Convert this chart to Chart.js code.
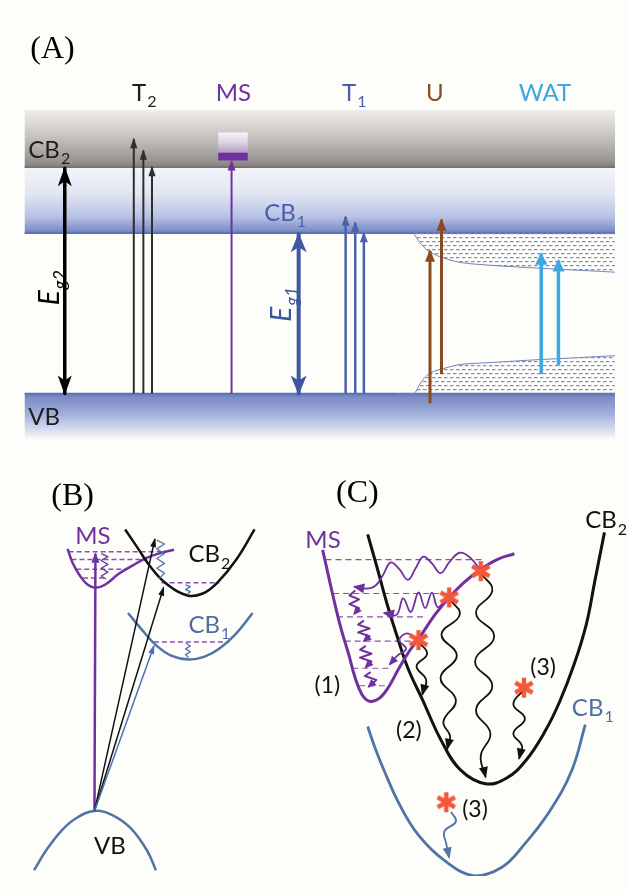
<!DOCTYPE html>
<html>
<head>
<meta charset="utf-8">
<script src="https://cdn.jsdelivr.net/npm/chart.js@4.4.0/dist/chart.umd.min.js"></script>
<style>
  html, body { margin: 0; padding: 0; background: #fdfdf9; overflow: hidden; }
  canvas { display: block; }
</style>
</head>
<body>
<canvas id="c" width="628" height="889"></canvas>
<script>
// ===== Panel A: band diagram (energies in canvas units, y grows downward) =====
const levelCB2 = [100, 159];      // top, bottom of CB2 band
const levelCB1 = [159, 227];      // shaded strip just below CB2 down to CB1 edge
const levelVB  = [392, 440];      // VB band
const bandSpan = [12, 628];       // left / right edge of the bands

const eg2Arrow = [54, 160, 392];  // x, top, bottom
const eg1Arrow = [298, 228, 392];
const t2Arrows = [[126, 130], [136, 142], [145, 159]];   // x, top (all start at VB)
const msArrowA = [228, 153];
const msBox    = [214, 245, 123, 144, 152];              // x0, x1, top, strip top, bottom
const t1Arrows = [[347, 210], [357, 216], [366, 227]];
const uArrows  = [[435, 402, 245], [447, 372, 213]];     // x, bottom, top
const watArrows = [[551, 372, 248], [569, 363, 255]];

// tail states of the disordered region (upper and lower edge)
const tailUpper = [[418,227],[424,236],[433,245],[445,251],[467,257],[500,260],[533,262],[570,264],[610,266],[628,267]];
const tailLower = [[400,392],[418,392],[424,383],[430,375],[437,370],[450,366],[467,362],[500,360],[550,357],[590,355],[628,353]];

// ===== Panel B: configuration-coordinate sketch =====
const bMS  = [[57,552],[62,566],[70,580],[78,589],[86,592],[96,589],[110,578],[125,569],[140,561],[155,556],[168,553]];
const bCB2 = [[117,532],[130,551],[143,570],[160,588],[182,600],[198,598],[213,587],[233,563],[252,532]];
const bCB1 = [[120,618],[135,636],[150,652],[165,662],[183,666],[200,663],[215,655],[232,640],[250,618]];
const bVB  = [[22,883],[35,862],[50,843],[65,830],[85,822],[105,827],[123,840],[140,863],[149,883]];
const bMSLevels = [[555,58,157],[563,61,140],[573,66,117],[582,73,98]];   // y, x0, x1
const bCBLevels = [[587,155,215],[648,147,224]];
const bApex = [85, 822];
const bUpMS = [86, 557];
const bToCB2 = [[148,542],[157,592]];
const bToCB1 = [147, 652];
const bZigMS  = [[92,557],[99,560],[92,564],[99,568],[92,572],[99,576],[92,580],[97,583]];
const bZigCB2 = [[150,543],[158,547],[150,552],[158,557],[150,562],[158,567],[150,572],[158,577],[152,583]];
const bZigCB2b = [[180,589],[185,591],[180,594],[185,596],[182,599]];
const bZigCB1 = [[180,649],[185,652],[180,655],[185,658],[180,661],[183,664]];

// ===== Panel C: relaxation pathways =====
const cMS  = [[323,553],[328,575],[333,597],[338,618],[343,637],[350,660],[357,685],[364,702],[372,709],[382,706],[392,694],[402,676],[413,658],[425,642],[440,620],[455,602],[470,587],[488,573],[505,563],[523,557]];
const cCB2 = [[370,537],[380,572],[390,608],[400,640],[412,675],[427,707],[447,750],[467,780],[493,794],[515,788],[535,770],[555,740],[570,710],[585,672],[598,630],[607,585],[617,535]];
const cCB1 = [[370,735],[378,758],[387,780],[403,815],[423,847],[450,873],[482,889],[510,880],[533,857],[560,822],[583,780],[597,733]];
const cMSLevels = [[563,326,490],[598,334,453],[622,338,430],[647,346,415],[675,354,395],[693,361,388]];
const cHot = [[488,575],[455,602],[423,646],[533,695],[452,813]];      // hot-carrier marks
const cWavePurple1 = [[488,575],[478,562],[466,556],[455,566],[446,577],[437,567],[428,560],[420,572],[412,584],[403,573],[394,566],[386,579],[378,590],[368,593],[356,591]];
const cWavePurple2 = [[452,603],[443,612],[437,597],[430,613],[423,597],[415,617],[407,603],[400,620],[387,618]];
const cWavePurple3 = [[421,646],[411,639],[403,646],[410,655],[401,662],[393,671]];
const cZig = [
  [[357,595],[351,600],[361,604],[351,609],[361,613],[356,619]],
  [[366,626],[360,630],[372,634],[360,638],[372,642],[366,647]],
  [[368,652],[362,656],[374,660],[362,664],[374,668],[368,674]],
  [[373,679],[367,683],[379,687],[371,694]]
];
const cWaveBlack = [
  [[423,648],[432,660],[421,673],[431,687],[427,702]],
  [[456,604],[466,620],[447,640],[463,662],[446,685],[462,708],[449,730],[456,745],[453,758]],
  [[488,577],[500,595],[483,618],[502,642],[482,668],[500,693],[483,718],[498,742],[488,765],[493,787]],
  [[533,697],[522,712],[534,727],[522,742],[531,755],[528,768]]
];
const cWaveBlue = [[457,823],[462,833],[450,843],[452,856],[455,870]];

// ===== Text =====
const labels = [
  { t: '(A)', x: 18, y: 36, cls: 'panel' },
  { t: '(B)', x: 40, y: 497, cls: 'panel' },
  { t: '(C)', x: 337, y: 494, cls: 'panel' },
  { t: 'T', sub: '2', x: 137, y: 82, cls: 'lab', c: '#1e1e1e', align: 'center' },
  { t: 'MS', x: 230, y: 82, cls: 'lab', c: '#7030a0', align: 'center' },
  { t: 'T', sub: '1', x: 356, y: 82, cls: 'lab', c: '#4a5fa8', align: 'center' },
  { t: 'U', x: 440, y: 82, cls: 'lab', c: '#8c4a22', align: 'center' },
  { t: 'WAT', x: 555, y: 82, cls: 'lab', c: '#3ea6e0', align: 'center' },
  { t: 'CB', sub: '2', x: 16, y: 140, cls: 'lab', c: '#1e1e1e' },
  { t: 'CB', sub: '1', x: 262, y: 205, cls: 'lab', c: '#4a5fa8' },
  { t: 'VB', x: 16, y: 416, cls: 'lab', c: '#1e1e1e' },
  { t: 'E', sub: 'g2', x: 37, y: 283, cls: 'eg', c: '#000', align: 'center', rot: -90 },
  { t: 'E', sub: 'g1', x: 279, y: 300, cls: 'eg', c: '#3f57a0', align: 'center', rot: -90 },
  { t: 'MS', x: 65, y: 538, cls: 'lab', c: '#7030a0' },
  { t: 'CB', sub: '2', x: 183, y: 557, cls: 'lab', c: '#111' },
  { t: 'CB', sub: '1', x: 183, y: 630, cls: 'lab', c: '#4f6fa3' },
  { t: 'VB', x: 101, y: 857, cls: 'lab', c: '#111', align: 'center' },
  { t: 'MS', x: 305, y: 542, cls: 'lab', c: '#7030a0' },
  { t: 'CB', sub: '2', x: 597, y: 522, cls: 'lab', c: '#111' },
  { t: 'CB', sub: '1', x: 583, y: 715, cls: 'lab', c: '#4f6fa3' },
  { t: '(1)', x: 328, y: 692, cls: 'num', c: '#111', align: 'center' },
  { t: '(2)', x: 413, y: 738, cls: 'num', c: '#111', align: 'center' },
  { t: '(3)', x: 553, y: 673, cls: 'num', c: '#111', align: 'center' },
  { t: '(3)', x: 482, y: 820, cls: 'num', c: '#111', align: 'center' }
];
const textStyles = {
  panel: { size: 32, family: '"Liberation Serif", serif', cap: 0.30 },
  lab:   { size: 24, family: 'Lato, "Open Sans", sans-serif', cap: 0.36 },
  eg:    { size: 28, family: 'Lato, "Open Sans", sans-serif', cap: 0.36, italic: true },
  num:   { size: 23, family: 'Lato, "Open Sans", sans-serif', cap: 0.36 }
};

// ---------- colours ----------
const PURPLE = '#7030a0', STEEL = '#5173a6', BLACK = '#111111';
const BLUE_T1 = '#4a62aa', BROWN = '#8c4a22', SKY = '#3ea6e0', HOT = '#f4573b';

// ---------- helpers ----------
const P = a => a.map(([x, y]) => ({ x, y }));
const datasets = [];
function addLine(points, opts) {
  datasets.push(Object.assign({
    data: P(points), showLine: true, pointRadius: 0, pointHoverRadius: 0,
    borderWidth: 2, borderColor: BLACK, backgroundColor: 'transparent',
    fill: false, tension: 0, borderCapStyle: 'butt', borderJoinStyle: 'round'
  }, opts));
}
function vGradient(top, bottom, stops) {
  return (ctx) => {
    const chart = ctx.chart, y = chart.scales.y;
    const fallback = stops[Math.floor(stops.length / 2)][1];
    if (!y || !chart.chartArea) return fallback;
    const y0 = y.getPixelForValue(top), y1 = y.getPixelForValue(bottom);
    if (!Number.isFinite(y0) || !Number.isFinite(y1)) return fallback;
    const g = chart.ctx.createLinearGradient(0, y0, 0, y1);
    stops.forEach(([o, c]) => g.addColorStop(o, c));
    return g;
  };
}
let dashPattern = null;
function tailPattern(ctx) {
  if (dashPattern) return dashPattern;
  const t = document.createElement('canvas');
  t.width = 6; t.height = 8;
  const g = t.getContext('2d');
  g.fillStyle = '#7d8dc2';
  g.fillRect(0, 1, 3.5, 1.2);
  g.fillRect(3, 5, 3, 1.2);
  g.fillRect(0, 5, 0.5, 1.2);
  dashPattern = ctx.chart.ctx.createPattern(t, 'repeat');
  return dashPattern;
}
function hotMark() {
  const s = 24, c = document.createElement('canvas');
  c.width = s; c.height = s;
  const g = c.getContext('2d');
  g.strokeStyle = HOT; g.lineWidth = 4.4; g.lineCap = 'butt';
  g.translate(s / 2, s / 2);
  for (let k = 0; k < 3; k++) {
    const a = Math.PI / 2 + k * Math.PI / 3;
    g.beginPath();
    g.moveTo(Math.cos(a) * 10, Math.sin(a) * 10);
    g.lineTo(-Math.cos(a) * 10, -Math.sin(a) * 10);
    g.stroke();
  }
  return c;
}

// ---------- Panel A bands ----------
addLine([[bandSpan[0], levelCB2[0]], [bandSpan[1], levelCB2[0]]], {
  borderWidth: 0, fill: { value: levelCB2[1] },
  backgroundColor: vGradient(levelCB2[0], levelCB2[1], [[0, '#eeedec'], [0.25, '#dad7d5'], [0.6, '#b8b4b2'], [0.9, '#97928f'], [1, '#827d7a']])
});
addLine([[bandSpan[0], levelCB1[0]], [bandSpan[1], levelCB1[0]]], {
  borderWidth: 0, fill: { value: levelCB1[1] },
  backgroundColor: vGradient(levelCB1[0], levelCB1[1], [[0, '#f3f4fa'], [0.4, '#e2e6f3'], [0.75, '#b7c1e3'], [0.95, '#8090c9'], [1, '#6377b8']])
});
addLine([[bandSpan[0], levelVB[0]], [bandSpan[1], levelVB[0]]], {
  borderWidth: 0, fill: { value: levelVB[1] },
  backgroundColor: vGradient(levelVB[0], levelVB[1], [[0, '#6276b8'], [0.08, '#7a8cc6'], [0.45, '#a4b0da'], [0.8, '#dbe0f1'], [1, '#fdfdf9']])
});
// band edges
addLine([[bandSpan[0], levelCB2[1]], [bandSpan[1], levelCB2[1]]], { borderWidth: 1.5, borderColor: '#76716f' });
addLine([[bandSpan[0], levelCB1[1]], [bandSpan[1], levelCB1[1]]], { borderWidth: 1.5, borderColor: '#5a6fb4' });
addLine([[bandSpan[0], levelVB[0]], [bandSpan[1], levelVB[0]]], { borderWidth: 1.5, borderColor: '#5a6fb4' });

// tail-state regions (dashed fill)
addLine(tailUpper, { borderWidth: 1, borderColor: '#6f82b8', fill: { value: levelCB1[1] }, backgroundColor: tailPattern, tension: 0.3 });
addLine(tailLower, { borderWidth: 1, borderColor: '#6f82b8', fill: { value: levelVB[0] }, backgroundColor: tailPattern, tension: 0.3 });

// MS level box in CB2
addLine([[msBox[0], msBox[2]], [msBox[1], msBox[2]]], {
  borderWidth: 0, fill: { value: msBox[3] },
  backgroundColor: vGradient(msBox[2], msBox[3], [[0, '#f6f5f6'], [0.5, '#ddd3e4'], [1, '#b49ac8']])
});
addLine([[msBox[0], msBox[3]], [msBox[1], msBox[3]]], { borderWidth: 0, fill: { value: msBox[4] }, backgroundColor: PURPLE });

// Eg arrows
addLine([[eg2Arrow[0], eg2Arrow[1]], [eg2Arrow[0], eg2Arrow[2]]], {
  borderWidth: 3.5, borderColor: '#000', head: { both: true, len: 18, w: 7, notch: 0.72 }
});
addLine([[eg1Arrow[0], eg1Arrow[1]], [eg1Arrow[0], eg1Arrow[2]]], {
  borderWidth: 4, borderColor: '#3f57a0', head: { both: true, len: 18, w: 8, notch: 0.72 }
});
// transition arrows
t2Arrows.forEach(([x, top]) => addLine([[x, levelVB[0]], [x, top]], { borderWidth: 2, borderColor: '#2e2e2e', head: { len: 9, w: 3.6 } }));
addLine([[msArrowA[0], levelVB[0]], [msArrowA[0], msArrowA[1]]], { borderWidth: 2, borderColor: PURPLE, head: { len: 9, w: 4 } });
t1Arrows.forEach(([x, top]) => addLine([[x, levelVB[0]], [x, top]], { borderWidth: 2.5, borderColor: BLUE_T1, head: { len: 9, w: 4 } }));
uArrows.forEach(([x, b, top]) => addLine([[x, b], [x, top]], { borderWidth: 3, borderColor: BROWN, head: { len: 11, w: 5 } }));
watArrows.forEach(([x, b, top]) => addLine([[x, b], [x, top]], { borderWidth: 3.5, borderColor: SKY, head: { len: 11, w: 6 } }));

// ---------- Panel B ----------
bMSLevels.concat(bCBLevels).forEach(([y, x0, x1]) => addLine([[x0, y], [x1, y]], { borderWidth: 1.5, borderColor: '#8a4fb5', borderDash: [5, 3] }));
addLine(bMS, { borderWidth: 2.5, borderColor: PURPLE, tension: 0.4 });
addLine(bCB2, { borderWidth: 2.5, borderColor: BLACK, tension: 0.4 });
addLine(bCB1, { borderWidth: 2.5, borderColor: STEEL, tension: 0.4 });
addLine(bVB, { borderWidth: 2.5, borderColor: STEEL, tension: 0.4 });
addLine([bApex, bUpMS], { borderWidth: 2.5, borderColor: PURPLE, head: { len: 9, w: 4 } });
bToCB2.forEach(p => addLine([bApex, p], { borderWidth: 1.5, borderColor: BLACK, head: { len: 8, w: 3 } }));
addLine([bApex, bToCB1], { borderWidth: 1.5, borderColor: '#4a72b8', head: { len: 8, w: 3 } });
addLine(bZigMS, { borderWidth: 1.3, borderColor: '#6a3a9a' });
addLine(bZigCB2, { borderWidth: 1.3, borderColor: STEEL });
addLine(bZigCB2b, { borderWidth: 1.3, borderColor: STEEL });
addLine(bZigCB1, { borderWidth: 1.3, borderColor: STEEL });

// ---------- Panel C ----------
cMSLevels.forEach(([y, x0, x1]) => addLine([[x0, y], [x1, y]], { borderWidth: 1.2, borderColor: '#8a4fb5', borderDash: [6, 4] }));
addLine(cCB1, { borderWidth: 2.8, borderColor: STEEL, tension: 0.4 });
addLine(cCB2, { borderWidth: 3, borderColor: BLACK, tension: 0.4 });
addLine(cMS, { borderWidth: 3, borderColor: PURPLE, tension: 0.4 });
cWaveBlack.forEach(w => addLine(w, { borderWidth: 1.8, borderColor: BLACK, tension: 0.45, head: { len: 10, w: 4.5 } }));
addLine(cWavePurple1, { borderWidth: 1.8, borderColor: PURPLE, tension: 0.4, head: { len: 10, w: 5 } });
addLine(cWavePurple2, { borderWidth: 1.8, borderColor: PURPLE, tension: 0.4, head: { len: 10, w: 5 } });
addLine(cWavePurple3, { borderWidth: 1.8, borderColor: PURPLE, tension: 0.4, head: { len: 8, w: 4 } });
cZig.forEach(z => addLine(z, { borderWidth: 2, borderColor: PURPLE, head: { len: 7, w: 4 } }));
addLine(cWaveBlue, { borderWidth: 1.8, borderColor: STEEL, tension: 0.45, head: { len: 10, w: 4.5 } });
datasets.push({
  data: P(cHot), showLine: false, pointStyle: hotMark(), pointRadius: 12, pointHoverRadius: 12
});

// later datasets are painted on top
datasets.forEach((d, i) => { d.order = datasets.length - i; });

// ---------- plugins ----------
const arrowHeads = {
  id: 'arrowHeads',
  afterDatasetsDraw(chart) {
    const { ctx, scales: { x, y } } = chart;
    const px = p => [x.getPixelForValue(p.x), y.getPixelForValue(p.y)];
    const draw = (tip, from, h, color) => {
      const ang = Math.atan2(tip[1] - from[1], tip[0] - from[0]);
      ctx.save();
      ctx.translate(tip[0], tip[1]);
      ctx.rotate(ang);
      ctx.beginPath();
      ctx.moveTo(1.5, 0);
      ctx.lineTo(-h.len, -h.w);
      if (h.notch) ctx.lineTo(-h.len * h.notch, 0);
      ctx.lineTo(-h.len, h.w);
      ctx.closePath();
      ctx.fillStyle = color;
      ctx.fill();
      ctx.restore();
    };
    chart.data.datasets.forEach(ds => {
      if (!ds.head) return;
      const pts = ds.data.map(px);
      const n = pts.length;
      draw(pts[n - 1], pts[n - 2], ds.head, ds.borderColor);
      if (ds.head.both) draw(pts[0], pts[1], ds.head, ds.borderColor);
    });
  }
};

const textLayer = {
  id: 'textLayer',
  afterDatasetsDraw(chart) {
    const { ctx, scales: { x, y } } = chart;
    labels.forEach(item => {
      const st = textStyles[item.cls];
      const it = st.italic ? 'italic ' : '';
      const mainFont = `${it}${st.size}px ${st.family}`;
      const subFont = `${it}${Math.round(st.size * 0.66)}px ${st.family}`;
      ctx.save();
      ctx.translate(x.getPixelForValue(item.x), y.getPixelForValue(item.y));
      if (item.rot) ctx.rotate(item.rot * Math.PI / 180);
      ctx.font = mainFont;
      const w1 = ctx.measureText(item.t).width;
      ctx.font = subFont;
      const w2 = item.sub ? ctx.measureText(item.sub).width + 1 : 0;
      const x0 = item.align === 'center' ? -(w1 + w2) / 2 : 0;
      const base = st.size * st.cap;
      ctx.fillStyle = item.c;
      ctx.textBaseline = 'alphabetic';
      ctx.textAlign = 'left';
      ctx.font = mainFont;
      ctx.fillText(item.t, x0, base);
      if (item.sub) {
        ctx.font = subFont;
        ctx.fillText(item.sub, x0 + w1 + 1, base + st.size * 0.26);
      }
      ctx.restore();
    });
  }
};

new Chart(document.getElementById('c'), {
  type: 'scatter',
  data: { datasets },
  options: {
    responsive: false,
    animation: false,
    devicePixelRatio: 1,
    events: [],
    layout: { padding: 0 },
    scales: {
      x: { type: 'linear', min: 0, max: 628, display: false },
      y: { type: 'linear', min: 0, max: 889, reverse: true, display: false }
    },
    plugins: { legend: { display: false }, tooltip: { enabled: false } }
  },
  plugins: [arrowHeads, textLayer]
});
</script>
</body>
</html>
